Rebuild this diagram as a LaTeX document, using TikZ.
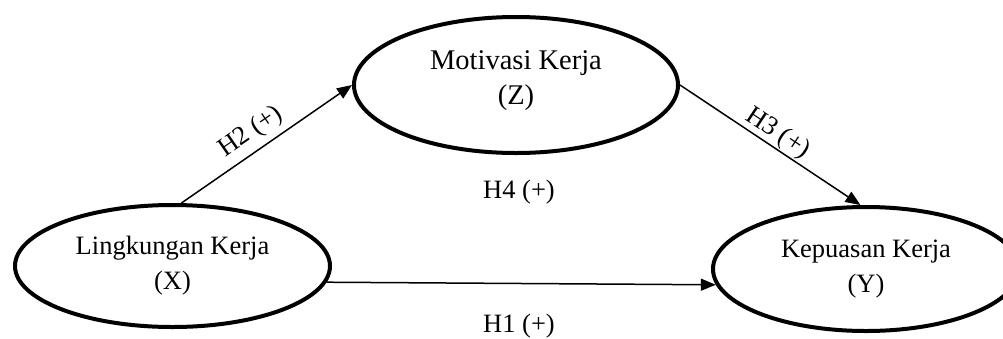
\documentclass[tikz,border=0pt]{standalone}
\usepackage{fontspec}
\setmainfont{Liberation Serif}
\usetikzlibrary{shapes.geometric,arrows.meta}
\begin{document}
\begin{tikzpicture}[x=1pt,y=-1pt,
  var/.style={ellipse, draw, line width=4pt, align=center, inner sep=0pt,
    font=\fontsize{26.5}{35}\selectfont},
  link/.style={line width=1.5pt, -{Triangle[length=15pt,width=12pt]}},
  lbl/.style={font=\fontsize{26.5}{32}\selectfont}]
\useasboundingbox (0,0) rectangle (1003,338);
\node[var, minimum width=315pt, minimum height=122pt] (L) at (172.5,266) {Lingkungan Kerja\\(X)};
\node[var, minimum width=324pt, minimum height=136pt, text depth=15pt,
  font=\fontsize{28.5}{35}\selectfont] (M) at (516,85) {Motivasi Kerja\\(Z)};
\node[var, minimum width=306pt, minimum height=124pt] (K) at (866,269) {Kepuasan Kerja\\(Y)};
\draw[link] (L.82) -- node[pos=0.47, sloped, above, inner sep=6pt, lbl] (h2) {H2 (+)} (M.180);
\draw[link] (M.0) -- node[pos=0.5, sloped, above, inner sep=1pt, lbl] (h3) {H3 (+)} (K.95);
\draw[link] (L.-6) -- (K.186);
\node[lbl] (h4) at (519,192) {H4 (+)};
\node[lbl] (h1) at (519,326) {H1 (+)};
\end{tikzpicture}
\end{document}
